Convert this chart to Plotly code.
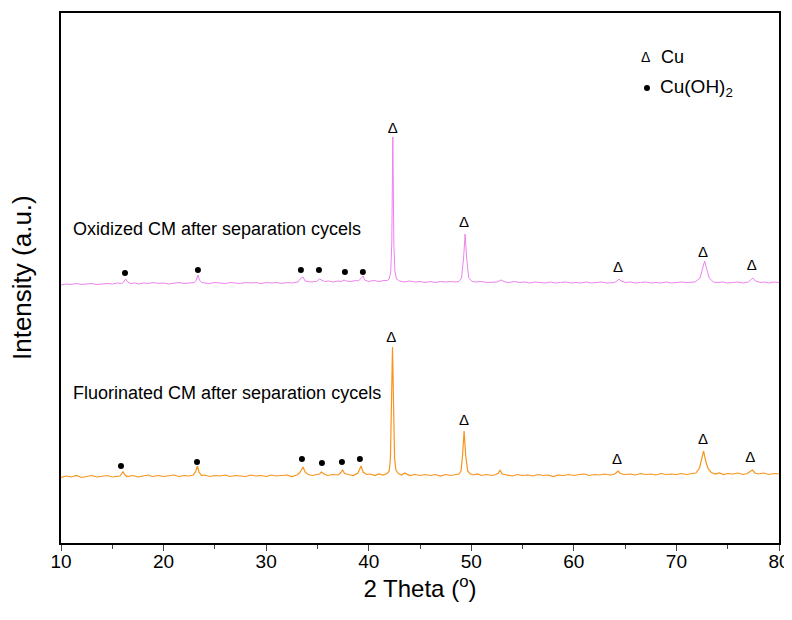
import plotly.graph_objects as go

# XRD patterns: (2-theta in degrees, intensity in a.u., traces offset)
oxidized_pattern = [
    (10.0, 258), (10.5, 259), (11.0, 258.5), (11.5, 259.5), (12.0, 258.5), (12.5, 259),
    (13.0, 259.5), (13.5, 258.5), (14.0, 259), (14.5, 259.5), (15.0, 259), (15.5, 260),
    (15.9, 259.5), (16.1, 261), (16.3, 264), (16.5, 261), (16.8, 259.5), (17.2, 260),
    (17.6, 259), (18.0, 260), (18.5, 259.5), (19.0, 260.5), (19.5, 259.5), (20.0, 260),
    (20.5, 259), (21.0, 260), (21.5, 260.5), (22.0, 259.5), (22.5, 260), (23.0, 260.5),
    (23.2, 263), (23.35, 268), (23.5, 263), (23.7, 260.5), (24.0, 260), (24.5, 259.5),
    (25.0, 260.5), (25.5, 260), (26.0, 259.5), (26.5, 260.5), (27.0, 260), (27.5, 259.5),
    (28.0, 260.5), (28.5, 260), (29.0, 260.5), (29.5, 259.5), (30.0, 260.5), (30.5, 260),
    (31.0, 260.5), (31.5, 259.5), (32.0, 260.5), (32.5, 260), (33.1, 261), (33.4, 265),
    (33.6, 266), (33.8, 262), (34.3, 261), (34.9, 261.5), (35.2, 264), (35.4, 263),
    (35.7, 261.5), (36.1, 262), (36.5, 261), (37.0, 262), (37.3, 261.5), (37.6, 263),
    (37.8, 262), (38.3, 261.5), (38.7, 262.5), (39.0, 262), (39.3, 265), (39.45, 267),
    (39.6, 263), (40.0, 261.5), (40.5, 262.5), (41.0, 261.5), (41.5, 262.5), (41.8, 262.5),
    (42.0, 264), (42.15, 272), (42.25, 300), (42.35, 406), (42.45, 300), (42.55, 272),
    (42.7, 264), (43.0, 262), (43.5, 261), (44.0, 262), (44.5, 261), (45.0, 261.5),
    (45.5, 260.5), (46.0, 261.5), (46.5, 260.5), (47.0, 261.5), (47.5, 261), (48.0, 261.5),
    (48.5, 261), (48.8, 261.5), (49.05, 265), (49.25, 285), (49.4, 309), (49.55, 285),
    (49.75, 265), (50.1, 261.5), (50.5, 261), (51.0, 261.5), (51.5, 260.5), (52.0, 261),
    (52.5, 261), (52.9, 263), (53.3, 261), (53.7, 260.5), (54.2, 261.5), (54.7, 260.5),
    (55.2, 261), (55.7, 260), (56.2, 261), (56.7, 260.5), (57.2, 260), (57.7, 261),
    (58.2, 260), (58.7, 260.5), (59.2, 261), (59.7, 260), (60.2, 260.5), (60.7, 260),
    (61.2, 261), (61.7, 260), (62.2, 260.5), (62.7, 261), (63.2, 260), (63.6, 260.5),
    (63.95, 260.5), (64.2, 262), (64.4, 264), (64.6, 262), (65.0, 260.5), (65.5, 261),
    (66.0, 260), (66.5, 260.5), (67.0, 261), (67.5, 260), (68.0, 260.5), (68.5, 260),
    (69.0, 261), (69.5, 260), (70.0, 260.5), (70.5, 261), (71.0, 260.5), (71.5, 261),
    (71.8, 261), (72.3, 265), (72.55, 274), (72.75, 282), (72.95, 274), (73.2, 265),
    (73.6, 261), (74.0, 260.5), (74.5, 261), (75.0, 260), (75.5, 260.5), (76.0, 261),
    (76.5, 260), (77.0, 261), (77.3, 263.5), (77.45, 265), (77.7, 262), (78.2, 260.5),
    (78.6, 261), (79.0, 260), (79.5, 261), (80.0, 260.5),
]

fluorinated_pattern = [
    (10.0, 65.5), (10.5, 67), (11.0, 66), (11.5, 67.5), (12.0, 65.5), (12.5, 66.5),
    (13.0, 67.5), (13.5, 66), (14.0, 66.5), (14.5, 67.5), (15.0, 66), (15.5, 67),
    (15.75, 67), (15.9, 69), (16.05, 71.5), (16.2, 68.5), (16.45, 66.5), (17.0, 67.5),
    (17.5, 66), (18.0, 67), (18.5, 68), (18.9, 66.5), (19.5, 67.5), (20.0, 66.5),
    (20.5, 67), (21.0, 68), (21.5, 66.5), (22.0, 67.5), (22.5, 67), (22.9, 68),
    (23.15, 72), (23.3, 77), (23.45, 71), (23.7, 67.5), (24.0, 68), (24.5, 66.5),
    (25.0, 67.5), (25.5, 67), (26.0, 68), (26.5, 66.5), (27.0, 67.5), (27.5, 67),
    (28.0, 66.5), (28.5, 68), (29.0, 67), (29.5, 67.5), (30.0, 66.5), (30.5, 68),
    (31.0, 67), (31.5, 67.5), (32.0, 68), (32.5, 66.5), (33.0, 68), (33.25, 70),
    (33.45, 74), (33.6, 76), (33.8, 71), (34.1, 68.5), (34.5, 67.5), (34.9, 68.5),
    (35.2, 69), (35.4, 71), (35.65, 69), (36.0, 67.5), (36.5, 68.5), (37.0, 68),
    (37.25, 70), (37.45, 73), (37.65, 69.5), (38.0, 68.5), (38.5, 67.5), (38.95, 70),
    (39.15, 75), (39.25, 77), (39.45, 71), (39.8, 68.5), (40.2, 69), (40.6, 67.5),
    (41.0, 69), (41.4, 68), (41.8, 69.5), (42.0, 72), (42.12, 85), (42.22, 140),
    (42.32, 196), (42.42, 140), (42.52, 85), (42.65, 73), (42.9, 69.5), (43.2, 68),
    (43.5, 70), (44.0, 67.5), (44.5, 68.5), (45.0, 67.5), (45.5, 68.5), (46.0, 67.5),
    (46.5, 68.5), (47.0, 67), (47.5, 68.5), (48.0, 67.5), (48.5, 68.5), (48.8, 69),
    (49.0, 72), (49.15, 88), (49.3, 112), (49.45, 88), (49.65, 72), (49.9, 69),
    (50.2, 68), (50.6, 69), (51.0, 67.5), (51.5, 68.5), (52.0, 67.5), (52.4, 68.5),
    (52.65, 70), (52.8, 73), (53.0, 69), (53.4, 68), (54.0, 67), (54.5, 68.5),
    (55.0, 67.5), (55.5, 68), (56.0, 67), (56.5, 68.5), (57.0, 67.5), (57.5, 68),
    (58.0, 66.5), (58.5, 68), (59.0, 67.5), (59.5, 68.5), (60.0, 67.5), (60.5, 68.5),
    (61.0, 69), (61.5, 67.5), (62.0, 68.5), (62.5, 68), (63.0, 69), (63.5, 68),
    (63.9, 68.5), (64.1, 70), (64.3, 72), (64.55, 69.5), (64.9, 68.5), (65.5, 69),
    (66.0, 68), (66.5, 69.5), (67.0, 68.5), (67.5, 69), (68.0, 68), (68.5, 69.5),
    (69.0, 68.5), (69.5, 69), (70.0, 68.5), (70.5, 69.5), (71.0, 68.5), (71.5, 69.5),
    (71.9, 70), (72.25, 75), (72.5, 84), (72.65, 92), (72.85, 82), (73.1, 74),
    (73.4, 70.5), (73.8, 69), (74.2, 70), (74.6, 68.5), (75.0, 69.5), (75.5, 69),
    (76.0, 70), (76.5, 68.5), (76.9, 69.5), (77.25, 72), (77.4, 73), (77.65, 70),
    (78.0, 69), (78.5, 70), (79.0, 68.5), (79.5, 69.5), (80.0, 69),
]

# phase markers: Cu (triangles) and Cu(OH)2 (dots)
ox_cu_x = [42.35, 49.3, 64.3, 72.6, 77.35]
ox_cu_y = [414, 320, 275, 290, 277]
ox_oh_x = [16.24, 23.35, 33.39, 35.15, 37.68, 39.43]
ox_oh_y = [270, 273, 273, 273, 271, 271]

fl_cu_x = [42.2, 49.28, 64.2, 72.6, 77.2]
fl_cu_y = [205, 122, 83, 103, 85]
fl_oh_x = [15.85, 23.26, 33.49, 35.44, 37.39, 39.14]
fl_oh_y = [77, 81, 84, 80, 81, 84]

FONT = "Liberation Sans, Arial, sans-serif"

ox_x, ox_y = zip(*oxidized_pattern)
fl_x, fl_y = zip(*fluorinated_pattern)

fig = go.Figure()

fig.add_trace(go.Scatter(x=ox_x, y=ox_y, mode="lines",
                         line=dict(color="#EE82EE", width=1)))
fig.add_trace(go.Scatter(x=fl_x, y=fl_y, mode="lines",
                         line=dict(color="#F7941D", width=1.2)))

for cx, cy in [(ox_cu_x, ox_cu_y), (fl_cu_x, fl_cu_y)]:
    fig.add_trace(go.Scatter(x=cx, y=cy, mode="text", text=["Δ"] * len(cx),
                             textfont=dict(family=FONT, size=15, color="black")))
for dx, dy in [(ox_oh_x, ox_oh_y), (fl_oh_x, fl_oh_y)]:
    fig.add_trace(go.Scatter(x=dx, y=dy, mode="markers",
                             marker=dict(symbol="circle", size=6, color="black")))

# sample labels
fig.add_annotation(x=11.0, y=314, text="Oxidized CM after separation cycels",
                   showarrow=False, xanchor="left", font=dict(family=FONT, size=18, color="black"))
fig.add_annotation(x=11.0, y=150, text="Fluorinated CM after separation cycels",
                   showarrow=False, xanchor="left", font=dict(family=FONT, size=18, color="black"))

# legend-like key in the top right
fig.add_annotation(x=66.95, y=486, text="Δ", showarrow=False,
                   font=dict(family=FONT, size=14, color="black"))
fig.add_annotation(x=68.3, y=486, text="Cu", showarrow=False, xanchor="left",
                   font=dict(family=FONT, size=18, color="black"))
fig.add_annotation(x=68.2, y=455, text="Cu(OH)<sub>2</sub>", showarrow=False, xanchor="left",
                   font=dict(family=FONT, size=19, color="black"))
fig.add_trace(go.Scatter(x=[67.13], y=[455], mode="markers",
                         marker=dict(symbol="circle", size=6, color="black")))

# y axis title
fig.add_annotation(xref="paper", yref="paper", x=0, y=0.5, xshift=-39, xanchor="center",
                   text="Intensity (a.u.)", textangle=-90, showarrow=False,
                   font=dict(family=FONT, size=26, color="black"))

fig.update_xaxes(range=[10, 80], dtick=10, ticks="outside", ticklen=6, tickwidth=1.2,
                 showline=True, linecolor="black", linewidth=1.5, mirror=True,
                 showgrid=False, zeroline=False, automargin=False, ticklabelstandoff=-6,
                 minor=dict(dtick=5, ticks="outside", ticklen=4, tickwidth=1.2),
                 tickfont=dict(family=FONT, size=19, color="black"),
                 title=dict(text="2 Theta (<sup>o</sup>)", standoff=0,
                            font=dict(family=FONT, size=24, color="black")))
fig.update_yaxes(range=[0, 530], showticklabels=False, ticks="",
                 showline=True, linecolor="black", linewidth=1.5, mirror=True,
                 showgrid=False, zeroline=False, automargin=False)

# the page puts the figure 8px in from the top-left corner
fig.update_layout(width=784, height=612, showlegend=False,
                  margin=dict(l=53, r=13, t=5, b=77),
                  plot_bgcolor="white", paper_bgcolor="white")

fig.write_html("out.html")
